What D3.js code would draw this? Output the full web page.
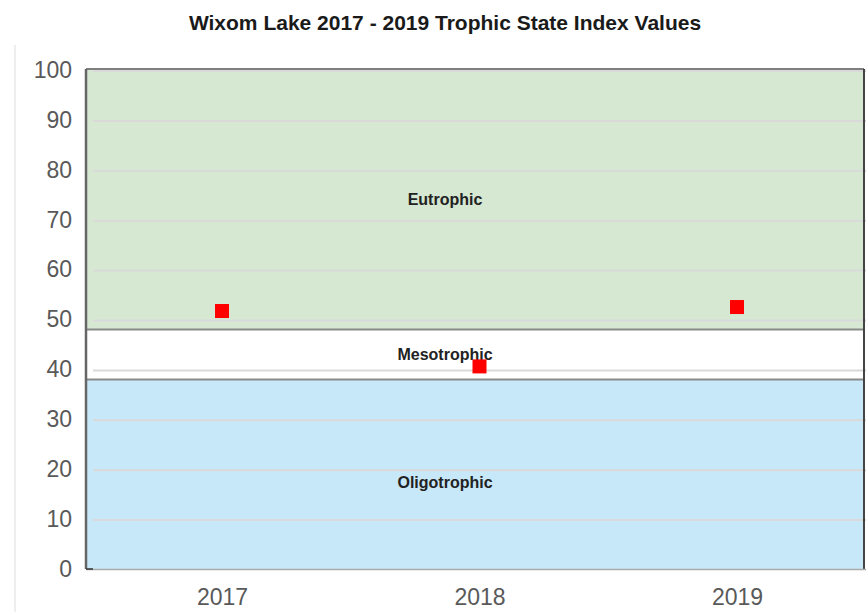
<!DOCTYPE html>
<html>
<head>
<meta charset="utf-8">
<script src="https://cdn.jsdelivr.net/npm/d3@7"></script>
<style>
  body { margin: 0; background: #fff; }
  text { font-family: "Liberation Sans", Arial, sans-serif; }
</style>
</head>
<body>
<div id="chart"></div>
<script>
var years = ["2017", "2018", "2019"];
var tsiValues = [51.7, 40.6, 52.5];
var yTicks = [0, 10, 20, 30, 40, 50, 60, 70, 80, 90, 100];
var bands = [
  { name: "Oligotrophic", lo: 0, hi: 38, color: "#c7e8f8", labelAt: 17.4 },
  { name: "Mesotrophic", lo: 38, hi: 48, color: "#ffffff", labelAt: 43 },
  { name: "Eutrophic", lo: 48, hi: 100, color: "#d6e8d2", labelAt: 74 }
];

var w = 866, h = 612;
var plotLeft = 86, plotRight = 864, plotTop = 70, plotBottom = 569;

var svg = d3.select("#chart").append("svg")
    .attr("width", w)
    .attr("height", h);

var x = d3.scalePoint().domain(years).range([222, 737]);
var y = d3.scaleLinear().domain([0, 100]).range([plotBottom, plotTop]);

// container edge
svg.append("line")
    .attr("x1", 15).attr("x2", 15).attr("y1", 45).attr("y2", h)
    .attr("stroke", "#dddddd").attr("stroke-width", 1);

// bands
svg.selectAll(".band")
    .data(bands)
  .enter().append("rect")
    .attr("class", "band")
    .attr("x", plotLeft)
    .attr("width", plotRight - plotLeft)
    .attr("y", function(d) { return y(d.hi); })
    .attr("height", function(d) { return y(d.lo) - y(d.hi); })
    .attr("fill", function(d) { return d.color; });

// gridlines
svg.selectAll(".grid")
    .data(yTicks.filter(function(t) { return t > 0; }))
  .enter().append("line")
    .attr("class", "grid")
    .attr("x1", 93).attr("x2", w)
    .attr("y1", function(d) { return y(d) + 1; })
    .attr("y2", function(d) { return y(d) + 1; })
    .attr("stroke", "#d9d9d9").attr("stroke-width", 2);

// band borders
svg.selectAll(".border")
    .data([38, 48])
  .enter().append("line")
    .attr("class", "border")
    .attr("x1", plotLeft).attr("x2", plotRight)
    .attr("y1", function(d) { return y(d); })
    .attr("y2", function(d) { return y(d); })
    .attr("stroke", "#8a8a8a").attr("stroke-width", 2);

// frame
svg.append("line").attr("x1", plotLeft).attr("x2", plotRight).attr("y1", plotTop - 1).attr("y2", plotTop - 1)
    .attr("stroke", "#555").attr("stroke-width", 1.5);
svg.append("line").attr("x1", plotLeft).attr("x2", plotLeft).attr("y1", plotTop - 1).attr("y2", plotBottom)
    .attr("stroke", "#666").attr("stroke-width", 2.5);
svg.append("line").attr("x1", plotRight).attr("x2", plotRight).attr("y1", plotTop - 1).attr("y2", plotBottom)
    .attr("stroke", "#444").attr("stroke-width", 2);
svg.append("line").attr("x1", plotLeft).attr("x2", w).attr("y1", plotBottom + 0.5).attr("y2", plotBottom + 0.5)
    .attr("stroke", "#aaaaaa").attr("stroke-width", 1.5);
svg.append("line").attr("x1", plotLeft).attr("x2", 93).attr("y1", plotBottom).attr("y2", plotBottom)
    .attr("stroke", "#333").attr("stroke-width", 1.5);

// band labels
svg.selectAll(".blabel")
    .data(bands)
  .enter().append("text")
    .attr("class", "blabel")
    .attr("x", 445)
    .attr("y", function(d) { return y(d.labelAt); })
    .attr("dy", "0.35em")
    .attr("text-anchor", "middle")
    .attr("font-size", "16px")
    .attr("font-weight", "bold")
    .attr("fill", "#222")
    .text(function(d) { return d.name; });

// y axis
var yAxis = svg.append("g")
    .attr("transform", "translate(" + (plotLeft - 14) + ",0)")
    .call(d3.axisLeft(y).tickValues(yTicks).tickSize(0).tickPadding(0));
yAxis.select(".domain").remove();
yAxis.selectAll("text")
    .attr("font-size", "23px")
    .attr("fill", "#595959")
    .style("font-family", "'Liberation Sans', Arial, sans-serif");

// x axis
var xAxis = svg.append("g")
    .attr("transform", "translate(0," + plotBottom + ")")
    .call(d3.axisBottom(x).tickSize(0).tickPadding(20));
xAxis.select(".domain").remove();
xAxis.selectAll("text")
    .attr("font-size", "23px")
    .attr("fill", "#595959")
    .style("font-family", "'Liberation Sans', Arial, sans-serif");

// points
var s = 14;
svg.selectAll(".pt")
    .data(tsiValues)
  .enter().append("rect")
    .attr("class", "pt")
    .attr("x", function(d, i) { return x(years[i]) - s / 2; })
    .attr("y", function(d) { return y(d) - s / 2; })
    .attr("width", s).attr("height", s)
    .attr("fill", "#ff0000");

// title
svg.append("text")
    .attr("x", 445).attr("y", 30)
    .attr("text-anchor", "middle")
    .attr("font-size", "21px")
    .attr("font-weight", "bold")
    .attr("fill", "#1a1a1a")
    .text("Wixom Lake 2017 - 2019 Trophic State Index Values");
</script>
</body>
</html>
